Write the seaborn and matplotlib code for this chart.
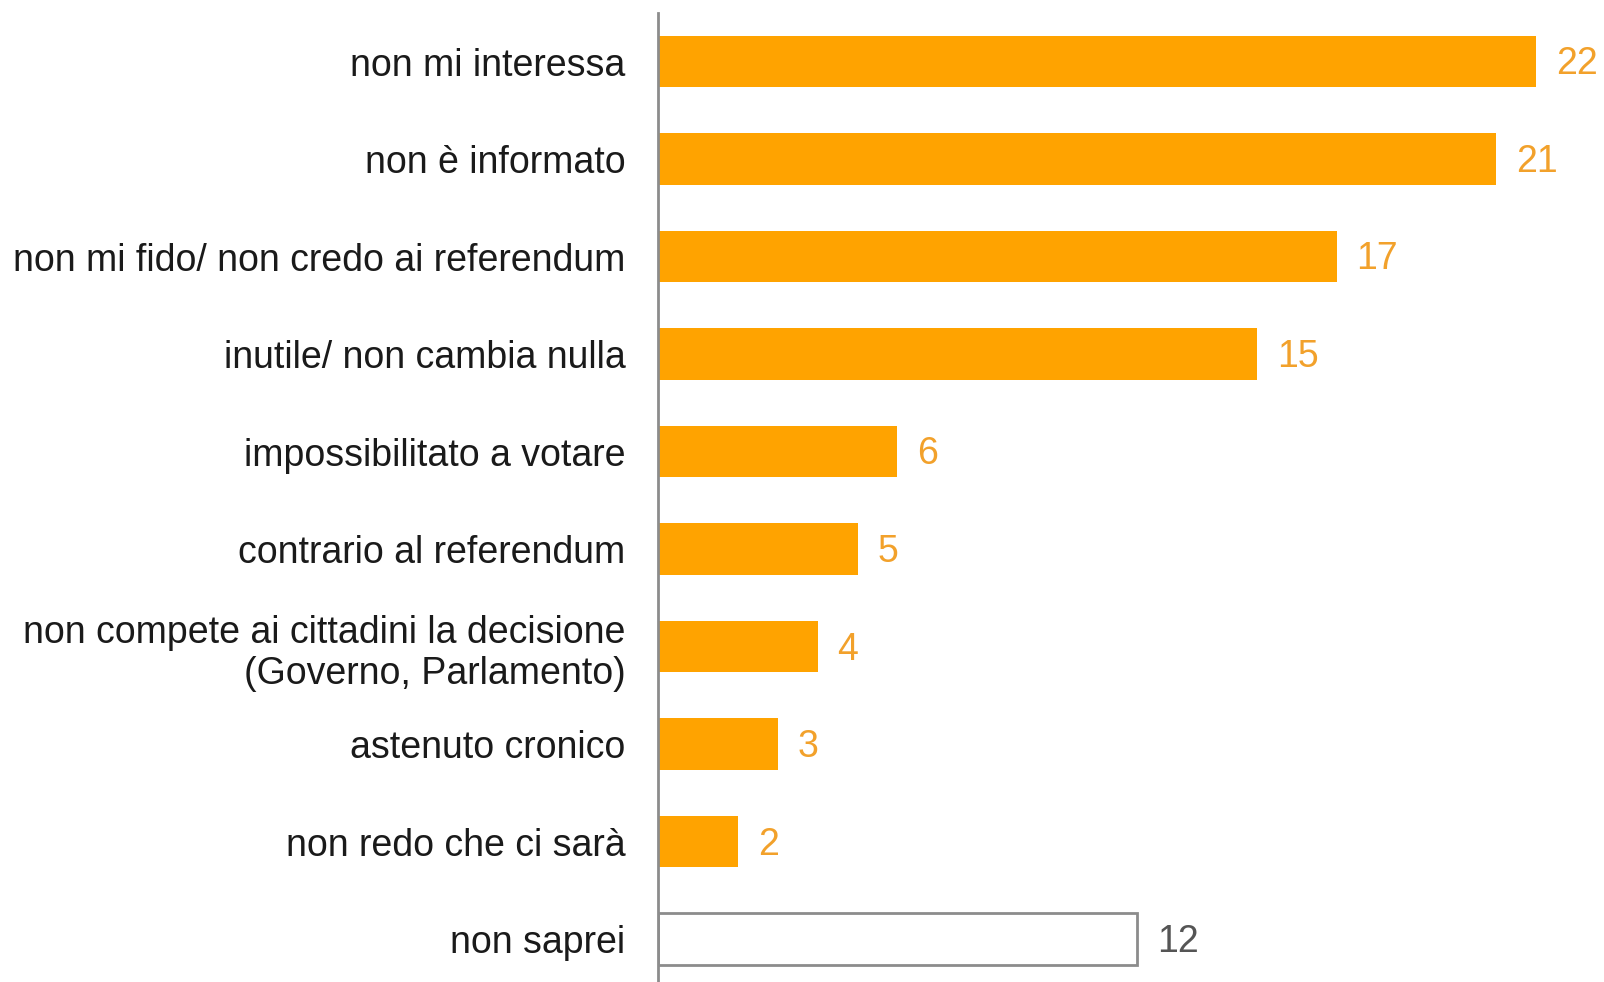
import matplotlib
matplotlib.use("Agg")
import matplotlib.pyplot as plt
import seaborn as sns
import pandas as pd

# Survey answers: reasons for not voting in the referendum (%)
categories = [
    "non mi interessa",
    "non è informato",
    "non mi fido/ non credo ai referendum",
    "inutile/ non cambia nulla",
    "impossibilitato a votare",
    "contrario al referendum",
    "non compete ai cittadini la decisione\n(Governo, Parlamento)",
    "astenuto cronico",
    "non redo che ci sarà",
    "non saprei",
]
values = [22, 21, 17, 15, 6, 5, 4, 3, 2, 12]

ORANGE = "#FFA300"
LABEL_ORANGE = "#F2A12B"
GREY = "#8C8C8C"

sns.set_theme(style="white")
plt.rcParams["font.family"] = ["Liberation Sans", "DejaVu Sans"]

df = pd.DataFrame({"categoria": categories, "valore": values})
palette = {c: (ORANGE if c != "non saprei" else "white") for c in categories}

fig = plt.figure(figsize=(16.04, 9.82), dpi=100)
ax = fig.add_axes([658 / 1604, -0.006, (1604 - 658) / 1604, 0.993])

sns.barplot(data=df, y="categoria", x="valore", hue="categoria",
            palette=palette, legend=False, width=0.53, ax=ax,
            saturation=1, orient="h")

# "non saprei" drawn as an outlined empty bar
for patch, cat in zip(ax.patches, categories):
    if cat == "non saprei":
        patch.set_edgecolor(GREY)
        patch.set_linewidth(2)
    else:
        patch.set_edgecolor("none")

for i, (cat, v) in enumerate(zip(categories, values)):
    color = "#555555" if cat == "non saprei" else LABEL_ORANGE
    ax.text(v + 0.5, i + 0.03, f"{v}", va="center", ha="left",
            fontsize=27, color=color)

ax.set_xlim(0, 23.7)
ax.set_ylim(9.5, -0.5)
ax.set_xlabel("")
ax.set_ylabel("")
ax.set_xticks([])
ax.tick_params(axis="y", length=0, pad=23.5, labelsize=27, labelcolor="#1a1a1a")
for s in ["top", "right", "bottom"]:
    ax.spines[s].set_visible(False)
ax.spines["left"].set_color(GREY)
ax.spines["left"].set_linewidth(2)

fig.savefig("out.png", dpi=100, facecolor="white")
